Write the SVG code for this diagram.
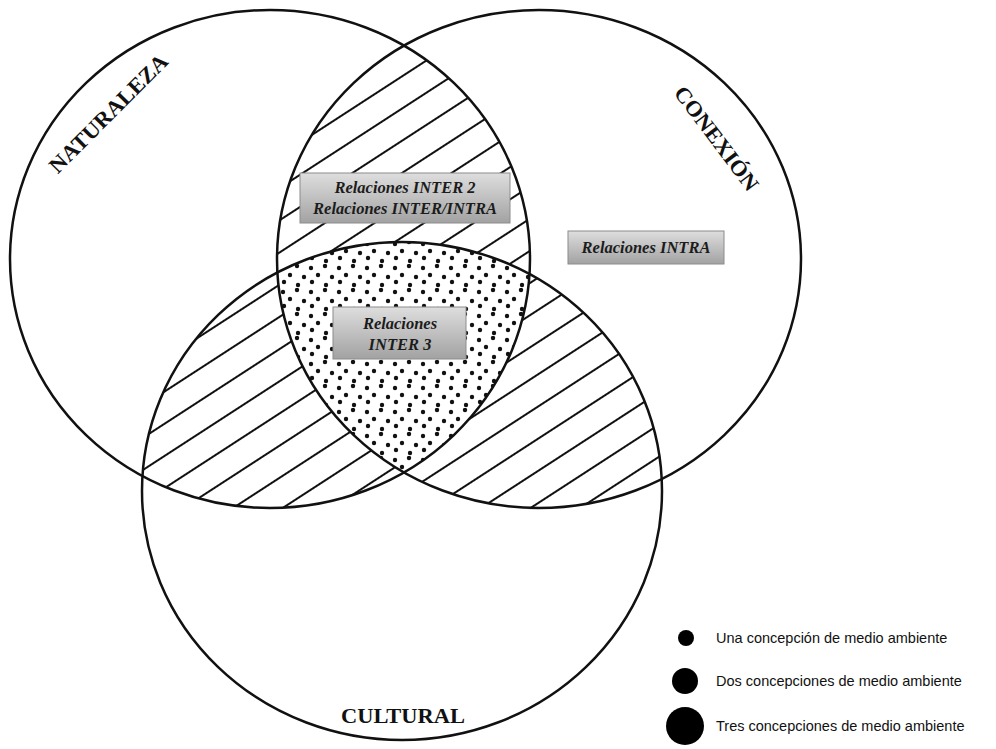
<svg xmlns="http://www.w3.org/2000/svg" width="996" height="749" viewBox="0 0 996 749">
<defs>
<style>
.ring{fill:none;stroke:#111;stroke-width:2.5}
.box{fill:url(#gbox);stroke:#8c8c8c;stroke-width:1}
.bt{font-family:"Liberation Serif",serif;font-weight:bold;font-style:italic;font-size:16.5px;fill:#1c1c1c;text-anchor:middle}
.lab{font-family:"Liberation Serif",serif;font-weight:bold;font-size:22px;fill:#111;text-anchor:middle}
.leg{font-family:"Liberation Sans",sans-serif;font-size:14.5px;fill:#111}
</style>
<linearGradient id="gbox" x1="0" y1="0" x2="0" y2="1">
<stop offset="0" stop-color="#dedede"/>
<stop offset="1" stop-color="#a2a2a2"/>
</linearGradient>
<pattern id="hatch" patternUnits="userSpaceOnUse" width="40" height="27" patternTransform="rotate(-33)">
<line x1="-5" y1="13" x2="45" y2="13" stroke="#111" stroke-width="2"/>
</pattern>
<pattern id="dots" patternUnits="userSpaceOnUse" width="28" height="24">
<circle cx="3" cy="4" r="2.2" fill="#111"/>
<circle cx="17" cy="2" r="2.2" fill="#111"/>
<circle cx="10" cy="11" r="2.2" fill="#111"/>
<circle cx="24" cy="13" r="2.2" fill="#111"/>
<circle cx="4" cy="18" r="2.2" fill="#111"/>
<circle cx="18" cy="21" r="2.2" fill="#111"/>
</pattern>
<clipPath id="cL"><ellipse cx="270" cy="259" rx="260" ry="249"/></clipPath>
<clipPath id="cR"><ellipse cx="539" cy="259" rx="262" ry="249"/></clipPath>
</defs>
<rect width="996" height="749" fill="#fff"/>
<g id="regions">
<g clip-path="url(#cL)"><ellipse cx="539" cy="259" rx="262" ry="249" fill="url(#hatch)"/></g>
<g clip-path="url(#cL)"><ellipse cx="402" cy="491" rx="260" ry="249" fill="url(#hatch)"/></g>
<g clip-path="url(#cR)"><ellipse cx="402" cy="491" rx="260" ry="249" fill="url(#hatch)"/></g>
<g clip-path="url(#cL)"><g clip-path="url(#cR)">
<ellipse cx="402" cy="491" rx="260" ry="249" fill="#fff"/>
<ellipse cx="402" cy="491" rx="260" ry="249" fill="url(#dots)"/>
</g></g>
</g>
<g id="naturaleza">
<ellipse class="ring" cx="270" cy="259" rx="260" ry="249"/>
<text class="lab" transform="translate(108,113) rotate(-45)" x="0" y="8" textLength="158" lengthAdjust="spacingAndGlyphs">NATURALEZA</text>
</g>
<g id="conexion">
<ellipse class="ring" cx="539" cy="259" rx="262" ry="249"/>
<text class="lab" transform="translate(717,138) rotate(53)" x="0" y="8" textLength="125" lengthAdjust="spacingAndGlyphs">CONEXIÓN</text>
</g>
<g id="cultural">
<ellipse class="ring" cx="402" cy="491" rx="260" ry="249"/>
<text class="lab" x="403" y="723" textLength="124" lengthAdjust="spacingAndGlyphs">CULTURAL</text>
</g>
<g id="box-inter2">
<rect class="box" x="300" y="173" width="210" height="50"/>
<text class="bt" x="405" y="193">Relaciones INTER 2</text>
<text class="bt" x="405" y="214">Relaciones INTER/INTRA</text>
</g>
<g id="box-intra">
<rect class="box" x="568" y="231" width="156" height="33"/>
<text class="bt" x="646" y="253">Relaciones INTRA</text>
</g>
<g id="box-inter3">
<rect class="box" x="333" y="307" width="133" height="52"/>
<text class="bt" x="400" y="329">Relaciones</text>
<text class="bt" x="400" y="350">INTER 3</text>
</g>
<g id="legend">
<circle cx="686" cy="638" r="8" fill="#000"/>
<circle cx="685" cy="681" r="13" fill="#000"/>
<circle cx="685" cy="726" r="19" fill="#000"/>
<text class="leg" x="716" y="643">Una concepción de medio ambiente</text>
<text class="leg" x="716" y="686">Dos concepciones de medio ambiente</text>
<text class="leg" x="716" y="731">Tres concepciones de medio ambiente</text>
</g>
<g id="connectors"/>
</svg>
